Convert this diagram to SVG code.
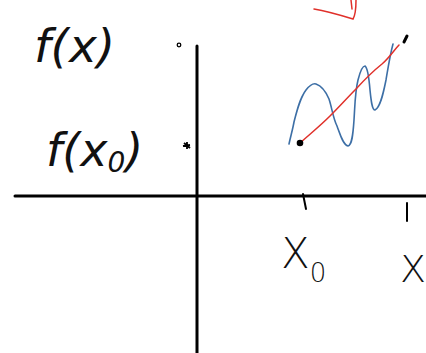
<svg xmlns="http://www.w3.org/2000/svg" width="426" height="353" viewBox="0 0 426 353">
<style>
.ax{stroke:#000;stroke-width:3;fill:none;stroke-linecap:round}
.ink{stroke:#000;stroke-width:2;fill:none;stroke-linecap:round}
.hw{font-family:"DejaVu Sans","Liberation Sans",sans-serif;font-weight:200;fill:#111}
</style>
<rect width="426" height="353" fill="#fff"/>
<g id="axes">
<path class="ax" d="M15 196 L426 196"/>
<path class="ax" d="M197 46 L197 353"/>
</g>
<g id="ticks">
<path class="ink" d="M303 194 L306 209"/>
<path class="ink" d="M407 203 L407 221"/>
<circle cx="179" cy="45" r="1.8" fill="none" stroke="#000" stroke-width="1.3"/>
<path d="M183 146 L190 145 M187 142 L187 149 M184 143 L190 148" stroke="#000" stroke-width="1.8"/>
</g>
<g id="labels">
<text class="hw" x="34" y="62" font-size="47" font-style="italic">f(x)</text>
<text class="hw" x="46" y="166" font-size="46" font-style="italic">f(x<tspan font-size="28" dy="6">0</tspan><tspan dy="-6">)</tspan></text>
<text class="hw" x="281" y="268" font-size="42">X<tspan font-size="26" dy="14">0</tspan></text>
<text class="hw" x="400" y="282" font-size="38">X</text>
</g>
<g id="curve">
<path d="M289 144 C291 135 293 128 294 122 C297 110 300 98 306 90 C310 85 313 83 316 84 C322 86 326 92 329 99 C332 108 333 118 337 126 C340 134 343 145 348 146 C352 145 353 135 354 120 C355 105 355 92 358 80 C360 72 362 66 365 66 C368 68 369 78 370 90 C371 100 372 110 375 110 C380 108 383 95 386 80 C388 68 390 55 393 44" fill="none" stroke="#3d6fa6" stroke-width="1.6" stroke-linecap="round"/>
</g>
<g id="connectors">
<path d="M300 143 C310 134 320 126 330 116 C340 106 348 97 356 89 C366 78 372 72 382 64 C390 57 394 50 399 45" fill="none" stroke="#e0302a" stroke-width="1.5" stroke-linecap="round"/>
<path d="M314 9 C326 11 340 15 353 19 C356 14 356 6 356 0 M351 0 L352 9" fill="none" stroke="#e0302a" stroke-width="1.5" stroke-linecap="round"/>
<circle cx="300" cy="143" r="3.3" fill="#000"/>
<path d="M407 36 L404 42" stroke="#000" stroke-width="3" stroke-linecap="round"/>
</g>
</svg>
